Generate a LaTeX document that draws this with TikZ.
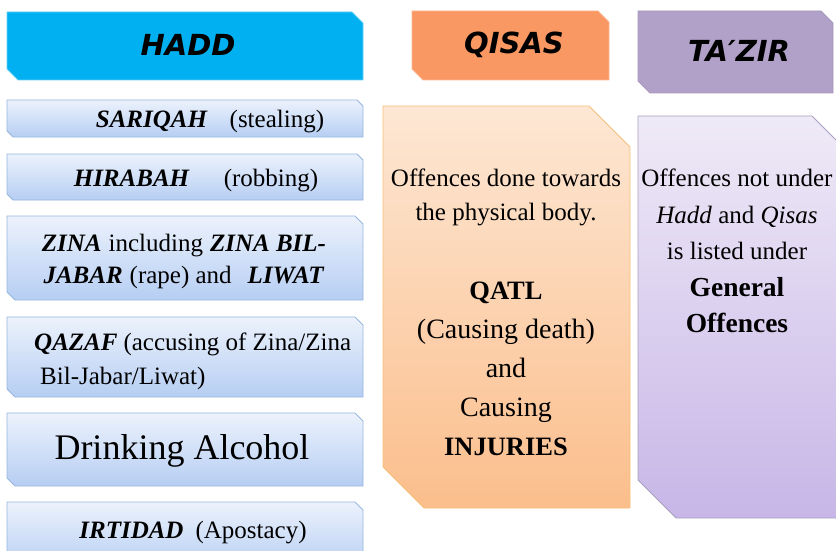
\documentclass[tikz,border=0pt]{standalone}
\usepackage{fontspec}
\setmainfont{Liberation Serif}
\newfontfamily\hdrfont{DejaVu Sans}
\usepackage{tikz}
\usetikzlibrary{positioning}
\definecolor{HaddCyan}   {RGB}{0,  176, 240}
\definecolor{QisasOrange}{RGB}{250, 152, 100}
\definecolor{TazirLilac} {RGB}{177, 160, 199}
\definecolor{ItemTop}    {RGB}{236, 242, 252}
\definecolor{ItemBot}    {RGB}{182, 206, 243}
\definecolor{ItemLine}   {RGB}{150, 182, 222}
\definecolor{QisasTop}   {RGB}{253, 231, 212}
\definecolor{QisasBot}   {RGB}{251, 190, 140}
\definecolor{QisasLine}  {RGB}{247, 192, 122}
\definecolor{TazirTop}   {RGB}{239, 234, 247}
\definecolor{TazirBot}   {RGB}{199, 182, 231}
\definecolor{TazirLine}  {RGB}{168, 160, 190}
\newcommand{\kw}[1]{\textbf{\textit{#1}}}
% box with top right and bottom left corners cut
\newcommand{\snipbox}[6]{%
  \path[#1] (#2,#3) -- (#4-#6,#3) -- (#4,#3+#6) -- (#4,#5)
    -- (#2+#6,#5) -- (#2,#5-#6) -- cycle;}

\begin{document}
\begin{tikzpicture}[x=1pt, y=-1pt,
  haddhdr/.style={fill=HaddCyan, draw=HaddCyan!60!white, line width=0.8pt},
  qisashdr/.style={fill=QisasOrange, draw=QisasOrange!70!white, line width=0.8pt},
  tazirhdr/.style={fill=TazirLilac, draw=TazirLilac!80!gray, line width=0.8pt},
  item/.style={top color=ItemTop, bottom color=ItemBot, draw=ItemLine, line width=0.8pt},
  qisasbody/.style={top color=QisasTop, bottom color=QisasBot, draw=QisasLine, line width=0.8pt},
  tazirbody/.style={top color=TazirTop, bottom color=TazirBot, draw=TazirLine, line width=0.8pt},
  hdr/.style={font=\hdrfont\fontsize{29}{30}\selectfont\bfseries\itshape, inner sep=0pt},
  txt/.style={font=\fontsize{25}{34}\selectfont, align=center, inner sep=0pt}
]
  \useasboundingbox (0,0) rectangle (836,551);

  %% column heads
  \snipbox{haddhdr}{7}{12}{363}{80}{11}
  \snipbox{qisashdr}{412}{11}{609}{80}{11}
  \snipbox{tazirhdr}{638}{11}{833}{93}{12}
  \node[hdr] (hadd)  at (188,45) {HADD};
  \node[hdr] (qisas) at (514,45) {QISAS};
  \node[hdr] (tazir) at (739,51) {TA′ZIR};

  %% Hadd offences
  \snipbox{item}{7}{100}{363}{137}{6}
  \snipbox{item}{7}{154}{363}{200}{6}
  \snipbox{item}{7}{216}{363}{300}{8}
  \snipbox{item}{7}{317}{363}{397}{8}
  \snipbox{item}{7}{413}{363}{486}{8}
  \snipbox{item}{7}{502}{363}{570}{8}
  \node[txt] (sariqah) at (210,122) {\kw{SARIQAH}\hspace{22pt}(stealing)};
  \node[txt] (hirabah) at (196,181) {\kw{HIRABAH}\hspace{34pt}(robbing)};
  \node[txt, font=\fontsize{25}{32}\selectfont] (zina) at (184,261)
    {\kw{ZINA}\hspace{7pt}including\hspace{7pt}\kw{ZINA BIL-}\\
     \kw{JABAR}\hspace{7pt}(rape) and\hspace{16pt}\kw{LIWAT}};
  \node[txt, align=left, anchor=west] (qazaf) at (34,361)
    {\kw{QAZAF}\hspace{6pt}(accusing of Zina/Zina\\\hspace{6pt}Bil-Jabar/Liwat)};
  \node[txt, font=\fontsize{36}{38}\selectfont] (drinking) at (182,451) {Drinking Alcohol};
  \node[txt] (irtidad) at (193,533) {\kw{IRTIDAD}\hspace{12pt}(Apostacy)};

  %% Qisas
  \snipbox{qisasbody}{383}{106}{630}{508}{41}
  \node[txt] (qisasdesc) at (506,197) {Offences done towards\\the physical body.};
  \node[txt, font=\fontsize{28}{39}\selectfont] (qatl) at (506,369)
    {{\fontsize{26.5}{39}\selectfont\bfseries QATL}\\(Causing death)\\and\\Causing\\
     {\fontsize{26.5}{39}\selectfont\bfseries INJURIES}};

  %% Ta'zir
  \snipbox{tazirbody}{638}{116}{850}{518}{38}
  \node[txt, font=\fontsize{25}{36.5}\selectfont] (tazirdesc) at (737,251)
    {Offences not under\\\textit{Hadd} and \textit{Qisas}\\is listed under\\
     {\fontsize{27.5}{36.5}\selectfont\bfseries General}\\
     {\fontsize{27.5}{36.5}\selectfont\bfseries Offences}};
\end{tikzpicture}
\end{document}
